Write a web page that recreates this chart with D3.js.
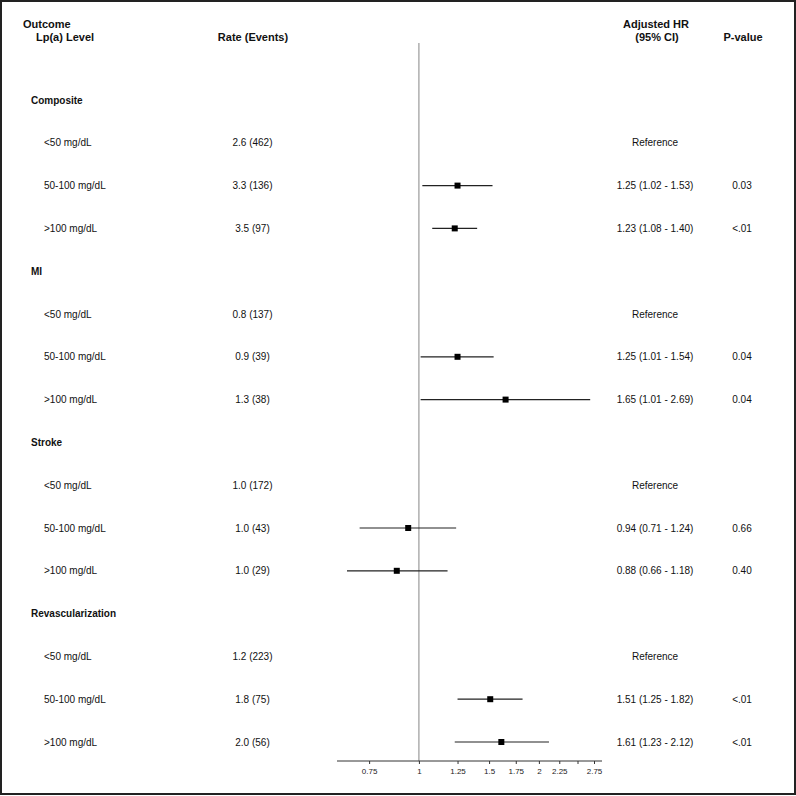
<!DOCTYPE html>
<html><head><meta charset="utf-8">
<script src="https://cdn.jsdelivr.net/npm/d3@7"></script>
<style>body{margin:0;background:#fff}svg{display:block}</style>
</head><body>
<script>
const outcomes = ["Composite", "MI", "Stroke", "Revascularization"];
const levels = ["<50 mg/dL", "50-100 mg/dL", ">100 mg/dL"];
const rates = [
  ["2.6 (462)", "3.3 (136)", "3.5 (97)"],
  ["0.8 (137)", "0.9 (39)", "1.3 (38)"],
  ["1.0 (172)", "1.0 (43)", "1.0 (29)"],
  ["1.2 (223)", "1.8 (75)", "2.0 (56)"]
];
const hr =    [[null, 1.25, 1.23], [null, 1.25, 1.65], [null, 0.94, 0.88], [null, 1.51, 1.61]];
const lower = [[null, 1.02, 1.08], [null, 1.01, 1.01], [null, 0.71, 0.66], [null, 1.25, 1.23]];
const upper = [[null, 1.53, 1.40], [null, 1.54, 2.69], [null, 1.24, 1.18], [null, 1.82, 2.12]];
const hrText = [
  ["Reference", "1.25 (1.02 - 1.53)", "1.23 (1.08 - 1.40)"],
  ["Reference", "1.25 (1.01 - 1.54)", "1.65 (1.01 - 2.69)"],
  ["Reference", "0.94 (0.71 - 1.24)", "0.88 (0.66 - 1.18)"],
  ["Reference", "1.51 (1.25 - 1.82)", "1.61 (1.23 - 2.12)"]
];
const pvals = [["", "0.03", "<.01"], ["", "0.04", "0.04"], ["", "0.66", "0.40"], ["", "<.01", "<.01"]];
const tickValues = [0.75, 1, 1.25, 1.5, 1.75, 2, 2.25, 2.5, 2.75];
const tickLabels = ["0.75", "1", "1.25", "1.5", "1.75", "2", "2.25", "", "2.75"];

const W = 796, H = 796;
const svg = d3.select("body").append("svg").attr("width", W).attr("height", H);
const font = "'Liberation Sans', Arial, sans-serif";

svg.append("rect").attr("x", 1).attr("y", 1).attr("width", 794).attr("height", 793)
  .attr("fill", "none").attr("stroke", "#222").attr("stroke-width", 2);

// build rows
const rows = [];
outcomes.forEach((o, i) => {
  rows.push({type: "header", label: o});
  levels.forEach((l, j) => rows.push({type: "row", label: l, rate: rates[i][j], hr: hr[i][j],
    lo: lower[i][j], hi: upper[i][j], hrt: hrText[i][j], p: pvals[i][j]}));
});
const y = d3.scalePoint().domain(d3.range(rows.length)).range([100, 742]);
const x = d3.scaleLog().domain([0.623, 2.88]).range([337, 602]);

// headers
const hdr = svg.append("g").attr("font-family", font).attr("font-weight", "bold").attr("font-size", 11).attr("fill", "#111");
hdr.append("text").attr("x", 23).attr("y", 28).text("Outcome");
hdr.append("text").attr("x", 36).attr("y", 41).text("Lp(a) Level");
hdr.append("text").attr("x", 253).attr("y", 41).attr("text-anchor", "middle").text("Rate (Events)");
hdr.append("text").attr("x", 656).attr("y", 28).attr("text-anchor", "middle").text("Adjusted HR");
hdr.append("text").attr("x", 657).attr("y", 41).attr("text-anchor", "middle").text("(95% CI)");
hdr.append("text").attr("x", 743).attr("y", 41).attr("text-anchor", "middle").text("P-value");

// reference line
svg.append("line").attr("x1", x(1)).attr("x2", x(1)).attr("y1", 43).attr("y2", 761)
  .attr("stroke", "#999").attr("stroke-width", 1.2);

const g = svg.append("g").attr("font-family", font).attr("font-size", 10).attr("fill", "#111");
rows.forEach((r, i) => {
  const yy = y(i);
  if (r.type === "header") {
    g.append("text").attr("x", 31).attr("y", yy).attr("dy", "0.35em").attr("font-weight", "bold").text(r.label);
    return;
  }
  g.append("text").attr("x", 44).attr("y", yy).attr("dy", "0.35em").text(r.label);
  g.append("text").attr("x", 252.5).attr("y", yy).attr("dy", "0.35em").attr("text-anchor", "middle").text(r.rate);
  g.append("text").attr("x", 655).attr("y", yy).attr("dy", "0.35em").attr("text-anchor", "middle").text(r.hrt);
  g.append("text").attr("x", 742).attr("y", yy).attr("dy", "0.35em").attr("text-anchor", "middle").text(r.p);
  if (r.hr != null) {
    svg.append("line").attr("x1", x(r.lo)).attr("x2", x(r.hi)).attr("y1", yy).attr("y2", yy)
      .attr("stroke", "#222").attr("stroke-width", 1.2);
    svg.append("rect").attr("x", x(r.hr) - 3).attr("y", yy - 3).attr("width", 6).attr("height", 6).attr("fill", "#000");
  }
});

// axis
const axis = d3.axisBottom(x).tickValues(tickValues).tickSize(3)
  .tickFormat((d, i) => tickLabels[i]);
const ag = svg.append("g").attr("transform", "translate(0,761)").call(axis);
ag.select(".domain").attr("stroke", "#333").attr("d", `M${x.range()[0]},0H${x.range()[1]}`);
ag.selectAll(".tick line").attr("stroke", "#333");
ag.selectAll(".tick text").attr("font-family", font).attr("font-size", 8).attr("fill", "#222").attr("dy", "0.9em");
</script>
</body></html>
